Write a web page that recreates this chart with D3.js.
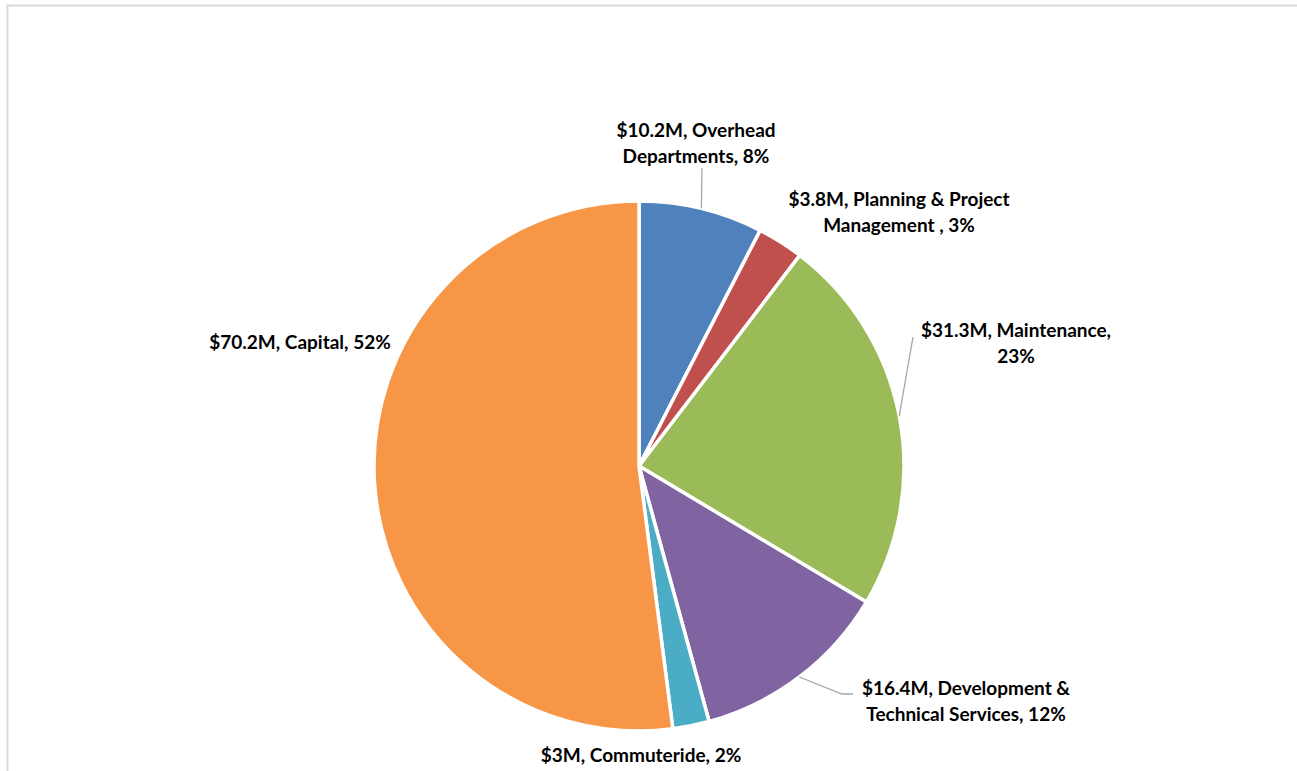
<!DOCTYPE html>
<html>
<head>
<meta charset="utf-8">
<script src="https://cdn.jsdelivr.net/npm/d3@7"></script>
<style>
  body { margin: 0; background: #fff; }
  text { font-family: Lato, "Open Sans", sans-serif; font-weight: bold; fill: #000; }
</style>
</head>
<body>
<div id="chart"></div>
<script>
// budget split, clockwise from 12 o'clock
var categories = ["Overhead Departments", "Planning & Project Management", "Maintenance",
                  "Development & Technical Services", "Commuteride", "Capital"];
var values = [10.2, 3.8, 31.3, 16.4, 3, 70.2];
var labelLines = [
  ["$10.2M, Overhead", "Departments, 8%"],
  ["$3.8M, Planning & Project", "Management , 3%"],
  ["$31.3M, Maintenance,", "23%"],
  ["$16.4M, Development &", "Technical Services, 12%"],
  ["$3M, Commuteride, 2%"],
  ["$70.2M, Capital, 52%"]
];
var colors = ["#4F81BD", "#C0504D", "#9BBB59", "#8064A2", "#4BACC6", "#F79646"];

const width = 1297, height = 771;
const cx = 639, cy = 466, radius = 265;

// label layout: centre x, first baseline y, optional leader end point(s)
var labelLayout = [
  {x: 696, y: 137, leader: [[702, 168]]},
  {x: 899, y: 206, leader: null},
  {x: 1016, y: 337, leader: [[913, 337]]},
  {x: 966, y: 695, leader: [[842, 694], [853, 694]]},
  {x: 641, y: 762, leader: null},
  {x: 300, y: 349, leader: null}
];

const svg = d3.select("#chart")
  .append("svg")
    .attr("width", width)
    .attr("height", height);

// chart frame
svg.append("rect")
  .attr("x", 7.5).attr("y", 5.5)
  .attr("width", 1300).attr("height", 800)
  .attr("fill", "none")
  .attr("stroke", "#D9D9D9")
  .attr("stroke-width", 2);

const pie = d3.pie().sort(null).value(d => d);
const arcs = pie(values);
const arc = d3.arc().innerRadius(0).outerRadius(radius);

const g = svg.append("g").attr("transform", `translate(${cx},${cy})`);

g.selectAll("path.slice")
  .data(arcs)
  .join("path")
    .attr("class", "slice")
    .attr("d", arc)
    .attr("fill", (d, i) => colors[i])
    .attr("stroke", "#fff")
    .attr("stroke-width", 3.5)
    .attr("stroke-linejoin", "round");

// leader lines
arcs.forEach(function(d, i) {
  var lay = labelLayout[i];
  if (!lay.leader) return;
  var a = (d.startAngle + d.endAngle) / 2;
  var pts = [[cx + radius * Math.sin(a), cy - radius * Math.cos(a)]].concat(lay.leader);
  svg.append("path")
    .attr("d", d3.line()(pts))
    .attr("fill", "none")
    .attr("stroke", "#A6A6A6")
    .attr("stroke-width", 1.3);
});

// labels
labelLines.forEach(function(lines, i) {
  var lay = labelLayout[i];
  var t = svg.append("text")
    .attr("text-anchor", "middle")
    .style("font-size", "19px");
  lines.forEach(function(s, j) {
    t.append("tspan")
      .attr("x", lay.x)
      .attr("y", lay.y + j * 26)
      .text(s);
  });
});
</script>
</body>
</html>
